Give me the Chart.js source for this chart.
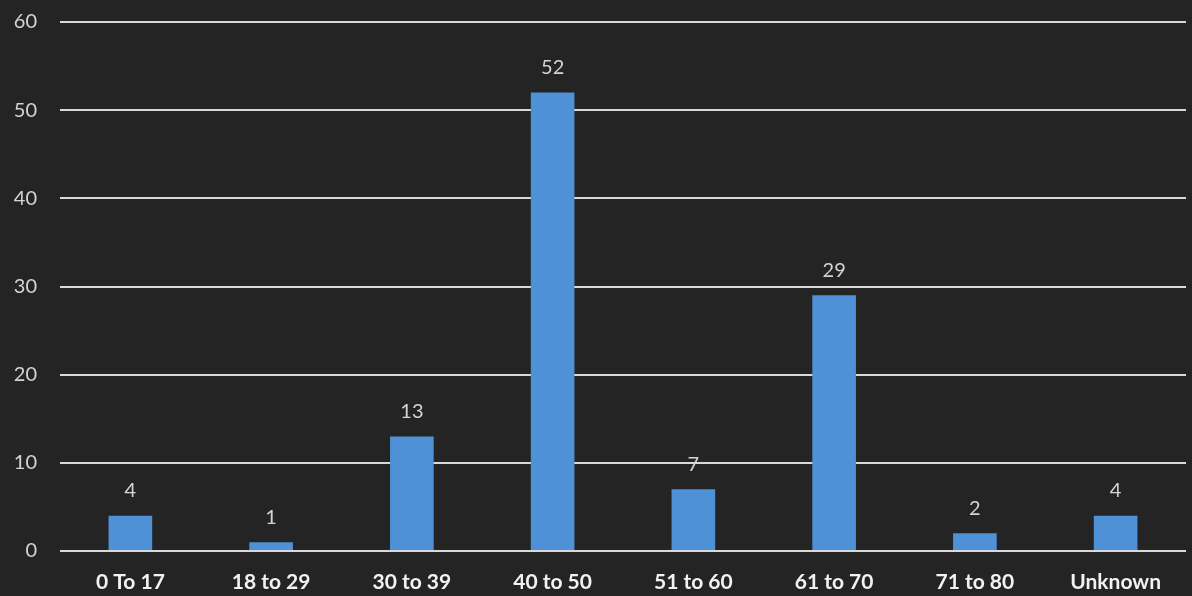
<!DOCTYPE html>
<html>
<head>
<meta charset="utf-8">
<script src="https://cdn.jsdelivr.net/npm/chart.js@4"></script>
<style>
  html, body { margin: 0; padding: 0; background: #242424; }
  #wrap { width: 1192px; height: 596px; }
</style>
</head>
<body>
<div id="wrap"><canvas id="chart" width="1192" height="596"></canvas></div>
<script>
// age groups and counts
const ageGroups = ['0 To 17', '18 to 29', '30 to 39', '40 to 50', '51 to 60', '61 to 70', '71 to 80', 'Unknown'];
const counts = [4, 1, 13, 52, 7, 29, 2, 4];
const yTicks = [0, 10, 20, 30, 40, 50, 60];

// background + value labels above bars
const paintPlugin = {
  id: 'paint',
  beforeDraw(chart) {
    const c = chart.ctx;
    c.save();
    c.fillStyle = '#242424';
    c.fillRect(0, 0, chart.width, chart.height);
    c.restore();
  },
  afterDatasetsDraw(chart) {
    const c = chart.ctx;
    const meta = chart.getDatasetMeta(0);
    c.save();
    c.fillStyle = '#d4d4d4';
    c.font = '20px Lato, "Open Sans", sans-serif';
    c.textAlign = 'center';
    c.textBaseline = 'middle';
    meta.data.forEach((bar, i) => {
      c.fillText(String(counts[i]), bar.x, bar.y - 25);
    });
    c.restore();
  }
};

new Chart(document.getElementById('chart').getContext('2d'), {
  type: 'bar',
  data: {
    labels: ageGroups,
    datasets: [{
      data: counts,
      backgroundColor: '#4f91d6',
      categoryPercentage: 1,
      barPercentage: 0.31
    }]
  },
  options: {
    responsive: false,
    animation: false,
    layout: { padding: { top: 22, right: 6, left: 0, bottom: 0 } },
    plugins: {
      legend: { display: false },
      tooltip: { enabled: false }
    },
    scales: {
      x: {
        grid: { display: false, drawTicks: false },
        border: { display: false },
        ticks: {
          color: '#f2f2f2',
          padding: 19,
          maxRotation: 0,
          font: { family: 'Lato, "Open Sans", sans-serif', size: 21, weight: 'bold' }
        },
        afterFit(scale) { scale.height = 45; scale.paddingLeft = 0; scale.paddingRight = 0; }
      },
      y: {
        min: 0,
        max: 60,
        afterBuildTicks(scale) { scale.ticks = yTicks.map(v => ({ value: v })); },
        grid: { color: '#d9d9d9', lineWidth: 2, drawTicks: false },
        border: { display: false },
        ticks: {
          color: '#d4d4d4',
          padding: 23,
          font: { family: 'Lato, "Open Sans", sans-serif', size: 20 }
        },
        afterFit(scale) { scale.width = 60; scale.paddingTop = 0; scale.paddingBottom = 0; }
      }
    }
  },
  plugins: [paintPlugin]
});
</script>
</body>
</html>
